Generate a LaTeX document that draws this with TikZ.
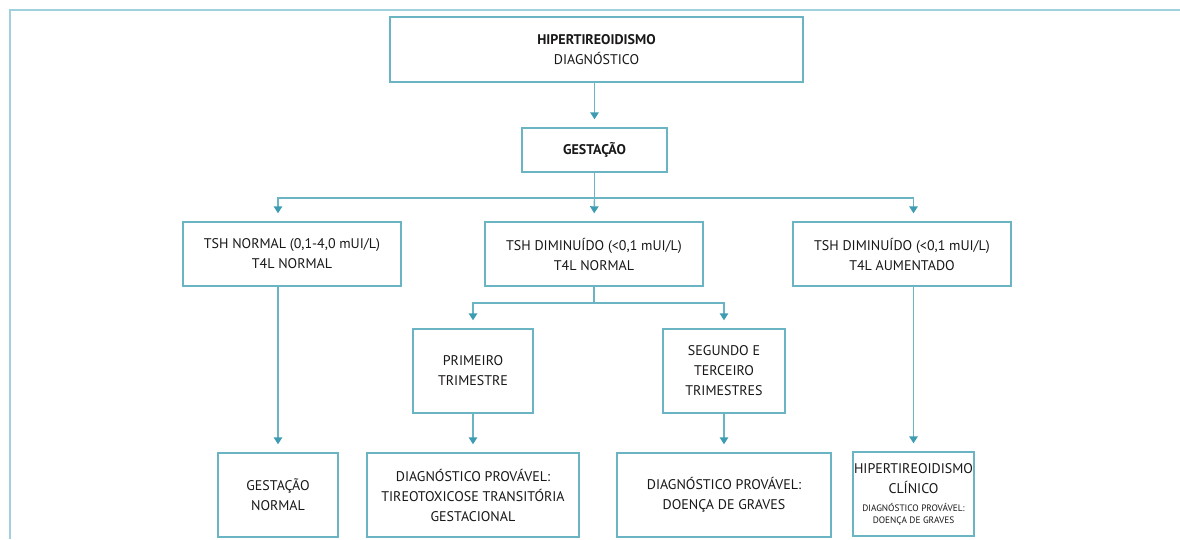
\documentclass[tikz,border=0pt]{standalone}
\usepackage{fontspec}
\setmainfont{PT Sans}
\usetikzlibrary{arrows.meta}

\definecolor{framecol}{HTML}{9FD0DC}
\definecolor{boxcol}{HTML}{6AB4C4}
\definecolor{tipcol}{HTML}{3E9CB2}
\definecolor{inkcol}{HTML}{1A1718}

\tikzset{
  box/.style={draw=boxcol, line width=1.4pt, fill=white, text=inkcol,
    align=center, inner sep=0pt,
    font=\fontsize{14}{20}\selectfont},
  link/.style={draw=boxcol, line width=1.4pt},
  arr/.style={link, -{Triangle[width=8.5pt,length=7pt,color=tipcol]},
    shorten >=8pt},
}

\begin{document}
\begin{tikzpicture}[x=1pt,y=-1pt]
\useasboundingbox (0,0) rectangle (1180,539);

% outer frame
\draw[framecol, line width=2.6pt] (1180,10) -- (10,10) -- (10,539);

% level 0 and 1
\node[box, minimum width=413pt, minimum height=65pt] (top) at (596.5,49.5)
  {{\bfseries HIPERTIREOIDISMO}\\DIAGNÓSTICO};
\node[box, minimum width=145pt, minimum height=44pt] (gest) at (594.5,150)
  {\bfseries GESTAÇÃO};

% level 2
\node[box, minimum width=218pt, minimum height=64pt] (tshn) at (292,254)
  {TSH NORMAL (0,1-4,0 mUI/L)\\T4L NORMAL};
\node[box, minimum width=218pt, minimum height=64pt] (tshd) at (594,254)
  {TSH DIMINUÍDO (<0,1 mUI/L)\\T4L NORMAL};
\node[box, minimum width=218pt, minimum height=64pt] (tsha) at (902,254)
  {TSH DIMINUÍDO (<0,1 mUI/L)\\T4L AUMENTADO};

% level 3
\node[box, minimum width=120pt, minimum height=84pt] (prim) at (473,371)
  {PRIMEIRO\\TRIMESTRE};
\node[box, minimum width=122pt, minimum height=84pt] (seg) at (724,371)
  {SEGUNDO E\\TERCEIRO\\TRIMESTRES};

% level 4
\node[box, minimum width=120pt, minimum height=84pt] (gnorm) at (278,495)
  {GESTAÇÃO\\NORMAL};
\node[box, minimum width=212pt, minimum height=84pt] (ttg) at (473,495)
  {DIAGNÓSTICO PROVÁVEL:\\TIREOTOXICOSE TRANSITÓRIA\\GESTACIONAL};
\node[box, minimum width=214pt, minimum height=84pt] (graves) at (724,495)
  {DIAGNÓSTICO PROVÁVEL:\\DOENÇA DE GRAVES};
\node[box, minimum width=121pt, minimum height=84pt, text depth=0pt] (clin) at (913.5,494)
  {\raisebox{0pt}[0pt][0pt]{}HIPERTIREOIDISMO\\CLÍNICO\\[-2pt]
   \fontsize{9.3}{20}\selectfont DIAGNÓSTICO PROVÁVEL:\\[-8pt]
   \fontsize{9.3}{20}\selectfont DOENÇA DE GRAVES};

% connectors
\coordinate (split1) at (594.5,198);
\coordinate (split2) at (594,303);

\draw[arr] (top.south -| gest.north) -- (gest.north);
\draw[link] (gest.south) -- (split1);
\draw[arr] (split1) -| (gnorm.north |- tshn.north);
\draw[arr] (split1) -- (tshd.north);
\draw[arr] (split1) -| (clin.north |- tsha.north);

\draw[link] (tshd.south) -- (split2);
\draw[arr] (split2) -| (prim.north);
\draw[arr] (split2) -| (seg.north);

\draw[arr] (tshn.south -| gnorm.north) -- (gnorm.north);
\draw[arr] (prim.south) -- (ttg.north);
\draw[arr] (seg.south) -- (graves.north);
\draw[arr] (tsha.south -| clin.north) -- (clin.north);
\end{tikzpicture}
\end{document}
